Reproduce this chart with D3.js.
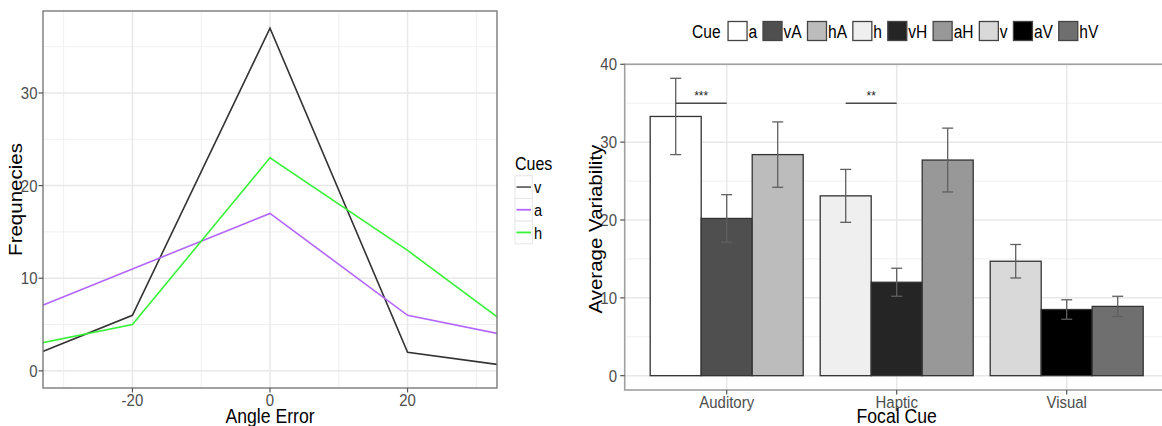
<!DOCTYPE html>
<html><head><meta charset="utf-8">
<script src="https://cdn.jsdelivr.net/npm/d3@7"></script>
<style>body{margin:0;background:#fff}svg{display:block}text{font-family:"Liberation Sans",Arial,sans-serif}</style>
</head><body>
<svg id="c" width="1162" height="426"></svg>
<script>
// ---------- Left chart data ----------
const angleErrors = [-40, -20, 0, 20, 40];
const cueSeries = ["v", "a", "h"];
const freqV = [0, 6, 37, 2, 0];
const freqA = [5, 11, 17, 6, 3];
const freqH = [2, 5, 23, 13, 2];
const xMajorTicks = [-20, 0, 20];
const xMinorTicks = [-30, -10, 10, 30];
const yMajorTicksL = [0, 10, 20, 30];
const yMinorTicksL = [5, 15, 25, 35];
const lineColors = ["#333333", "#b266ff", "#38f238"];

// ---------- Right chart data ----------
const focalCues = ["Auditory", "Haptic", "Visual"];
const cueLevels = ["a", "vA", "hA", "h", "vH", "aH", "v", "aV", "hV"];
const cueGroup = ["Auditory", "Auditory", "Auditory", "Haptic", "Haptic", "Haptic", "Visual", "Visual", "Visual"];
const avgVariability = [33.3, 20.2, 28.4, 23.1, 12.0, 27.7, 14.7, 8.5, 8.9];
const seVariability = [4.9, 3.05, 4.2, 3.4, 1.8, 4.1, 2.15, 1.25, 1.3];
const cueFills = ["#ffffff", "#4f4f4f", "#bcbcbc", "#efefef", "#252525", "#989898", "#d9d9d9", "#000000", "#6f6f6f"];
const yMajorTicksR = [0, 10, 20, 30, 40];
const yMinorTicksR = [5, 15, 25, 35];
const sigGroups = ["Auditory", "Haptic"];
const sigLabels = ["***", "**"];
const sigY = [35, 35];

const svg = d3.select("#c");
const SX = 0.86;
const TICK_SIZE = 17, TICK_SX = 0.88;
function txt(g, s, x, y, opt) {
  opt = opt || {};
  const t = g.append("text").text(s)
    .attr("font-size", opt.size || 16)
    .attr("fill", opt.fill || "#000")
    .attr("text-anchor", opt.anchor || "start");
  if (opt.dy) t.attr("dy", opt.dy);
  t.attr("transform", `translate(${x},${y}) scale(${opt.sx || SX},1)` + (opt.rot ? ` rotate(${opt.rot})` : ""));
  return t;
}

// ================= LEFT CHART =================
(function () {
  const L = 43, R = 497, T = 11, B = 388;
  const x = d3.scaleLinear().domain([-33, 33]).range([L, R]);
  const y = d3.scaleLinear().domain([-1.85, 38.85]).range([B, T]);
  const g = svg.append("g");
  g.append("clipPath").attr("id", "clipL").append("rect").attr("x", L).attr("y", T).attr("width", R - L).attr("height", B - T);
  // grid
  g.selectAll(".mnx").data(xMinorTicks).join("line").attr("x1", d => x(d)).attr("x2", d => x(d)).attr("y1", T).attr("y2", B).attr("stroke", "#f0f0f0").attr("stroke-width", 1);
  g.selectAll(".mny").data(yMinorTicksL).join("line").attr("y1", d => y(d)).attr("y2", d => y(d)).attr("x1", L).attr("x2", R).attr("stroke", "#f0f0f0").attr("stroke-width", 1);
  g.selectAll(".mjx").data(xMajorTicks).join("line").attr("x1", d => x(d)).attr("x2", d => x(d)).attr("y1", T).attr("y2", B).attr("stroke", "#e8e8e8").attr("stroke-width", 1.5);
  g.selectAll(".mjy").data(yMajorTicksL).join("line").attr("y1", d => y(d)).attr("y2", d => y(d)).attr("x1", L).attr("x2", R).attr("stroke", "#e8e8e8").attr("stroke-width", 1.5);
  // lines
  const series = [freqV, freqA, freqH];
  const line = d3.line().x((d, i) => x(angleErrors[i])).y(d => y(d));
  const lg = g.append("g").attr("clip-path", "url(#clipL)");
  series.forEach((s, k) => {
    lg.append("path").attr("d", line(s)).attr("fill", "none").attr("stroke", lineColors[k]).attr("stroke-width", 1.6);
  });
  // border
  g.append("rect").attr("x", L).attr("y", T).attr("width", R - L).attr("height", B - T).attr("fill", "none").attr("stroke", "#7a7a7a").attr("stroke-width", 1.4);
  // ticks
  xMajorTicks.forEach(v => {
    g.append("line").attr("x1", x(v)).attr("x2", x(v)).attr("y1", B).attr("y2", B + 4.5).attr("stroke", "#555").attr("stroke-width", 1.2);
    txt(g, String(v), x(v), 406, {size: TICK_SIZE, sx: TICK_SX, fill: "#4d4d4d", anchor: "middle"});
  });
  yMajorTicksL.forEach(v => {
    g.append("line").attr("x1", L - 4.5).attr("x2", L).attr("y1", y(v)).attr("y2", y(v)).attr("stroke", "#555").attr("stroke-width", 1.2);
    txt(g, String(v), 37.5, y(v), {size: TICK_SIZE, sx: TICK_SX, fill: "#4d4d4d", anchor: "end", dy: "0.36em"});
  });
  txt(g, "Angle Error", (L + R) / 2, 422.5, {size: 20.5, anchor: "middle"});
  txt(g, "Frequnecies", 22, (T + B) / 2, {size: 20.5, anchor: "middle", rot: -90});
  // legend
  txt(g, "Cues", 515, 170, {size: 18.6});
  cueSeries.forEach((c, i) => {
    const ky = 175.7 + i * 22.7;
    g.append("rect").attr("x", 515).attr("y", ky).attr("width", 17.3).attr("height", 22.7).attr("fill", "#fff").attr("stroke", "#e6e6e6").attr("stroke-width", 1);
    g.append("line").attr("x1", 516.5).attr("x2", 531).attr("y1", ky + 11.35).attr("y2", ky + 11.35).attr("stroke", i === 0 ? "#666" : lineColors[i]).attr("stroke-width", 1.8);
    txt(g, c, 534, ky + 11.35, {size: 17, dy: "0.36em"});
  });
})();

// ================= RIGHT CHART =================
(function () {
  const L = 624.7, R = 1168.7, T = 64.3, B = 390;
  const x = d3.scaleBand().domain(focalCues).range([L, R]).paddingInner(0.1).paddingOuter(0.15);
  const y = d3.scaleLinear().domain([-1.84, 40]).range([B, T]);
  const g = svg.append("g");
  const bars = cueLevels.map((c, i) => ({cue: c, group: cueGroup[i], v: avgVariability[i], se: seVariability[i], fill: cueFills[i]}));
  focalCues.forEach(fc => {
    const inGroup = bars.filter(b => b.group === fc);
    const xi = d3.scaleBand().domain(d3.range(inGroup.length)).range([x(fc), x(fc) + x.bandwidth()]);
    inGroup.forEach((b, j) => { b.x0 = xi(j); b.w = xi.bandwidth(); b.cx = xi(j) + xi.bandwidth() / 2; });
  });
  const centers = focalCues.map(c => x(c) + x.bandwidth() / 2);
  // grid
  g.selectAll(".mny").data(yMinorTicksR).join("line").attr("y1", d => y(d)).attr("y2", d => y(d)).attr("x1", L).attr("x2", R).attr("stroke", "#f0f0f0").attr("stroke-width", 1);
  g.selectAll(".mjy").data(yMajorTicksR).join("line").attr("y1", d => y(d)).attr("y2", d => y(d)).attr("x1", L).attr("x2", R).attr("stroke", "#e8e8e8").attr("stroke-width", 1.5);
  g.selectAll(".mjx").data(centers).join("line").attr("x1", d => d).attr("x2", d => d).attr("y1", T).attr("y2", B).attr("stroke", "#e8e8e8").attr("stroke-width", 1.5);
  // bars
  g.selectAll(".bar").data(bars).join("rect")
    .attr("x", d => d.x0).attr("width", d => d.w)
    .attr("y", d => y(d.v)).attr("height", d => y(0) - y(d.v))
    .attr("fill", d => d.fill).attr("stroke", "#333").attr("stroke-width", 1.3);
  // error bars
  const cap = 5.5;
  bars.forEach(b => {
    const eg = g.append("g").attr("stroke", "#606060").attr("stroke-width", 1.3);
    eg.append("line").attr("x1", b.cx).attr("x2", b.cx).attr("y1", y(b.v + b.se)).attr("y2", y(b.v - b.se));
    eg.append("line").attr("x1", b.cx - cap).attr("x2", b.cx + cap).attr("y1", y(b.v + b.se)).attr("y2", y(b.v + b.se));
    eg.append("line").attr("x1", b.cx - cap).attr("x2", b.cx + cap).attr("y1", y(b.v - b.se)).attr("y2", y(b.v - b.se));
  });
  // significance
  sigGroups.forEach((sg, k) => {
    const gb = bars.filter(b => b.group === sg);
    const x1 = gb[0].cx, x2 = gb[1].cx;
    g.append("line").attr("x1", x1).attr("x2", x2).attr("y1", y(sigY[k])).attr("y2", y(sigY[k])).attr("stroke", "#4a4a4a").attr("stroke-width", 1.6);
    txt(g, sigLabels[k], (x1 + x2) / 2, y(sigY[k]) - 3, {size: 12, anchor: "middle", fill: "#222", sx: 1});
  });
  // border
  g.append("rect").attr("x", L).attr("y", T).attr("width", R - L).attr("height", B - T).attr("fill", "none").attr("stroke", "#a0a0a0").attr("stroke-width", 1.6);
  // ticks
  focalCues.forEach((fc, i) => {
    g.append("line").attr("x1", centers[i]).attr("x2", centers[i]).attr("y1", B).attr("y2", B + 4.5).attr("stroke", "#555").attr("stroke-width", 1.2);
    txt(g, fc, centers[i], 408, {size: TICK_SIZE, sx: TICK_SX, fill: "#4d4d4d", anchor: "middle"});
  });
  yMajorTicksR.forEach(v => {
    g.append("line").attr("x1", L - 4.5).attr("x2", L).attr("y1", y(v)).attr("y2", y(v)).attr("stroke", "#555").attr("stroke-width", 1.2);
    txt(g, String(v), 617, y(v), {size: TICK_SIZE, sx: TICK_SX, fill: "#4d4d4d", anchor: "end", dy: "0.36em"});
  });
  txt(g, "Focal Cue", centers[1], 422.5, {size: 20.5, anchor: "middle"});
  txt(g, "Average Variability", 602, (T + B) / 2 + 2, {size: 20.5, anchor: "middle", rot: -90});
  // legend (top)
  const lsx = 0.82;
  let lx = 692;
  const t0 = txt(g, "Cue", lx, 38, {size: 19, sx: lsx});
  lx += t0.node().getComputedTextLength() * lsx + 7.5;
  cueLevels.forEach((c, i) => {
    g.append("rect").attr("x", lx).attr("y", 21.5).attr("width", 19).attr("height", 19).attr("fill", cueFills[i]).attr("stroke", "#444").attr("stroke-width", 1.3);
    const t = txt(g, c, lx + 20.5, 38, {size: 19, sx: lsx});
    lx += 20.5 + t.node().getComputedTextLength() * lsx + 5.8;
  });
})();
</script>
</body></html>
